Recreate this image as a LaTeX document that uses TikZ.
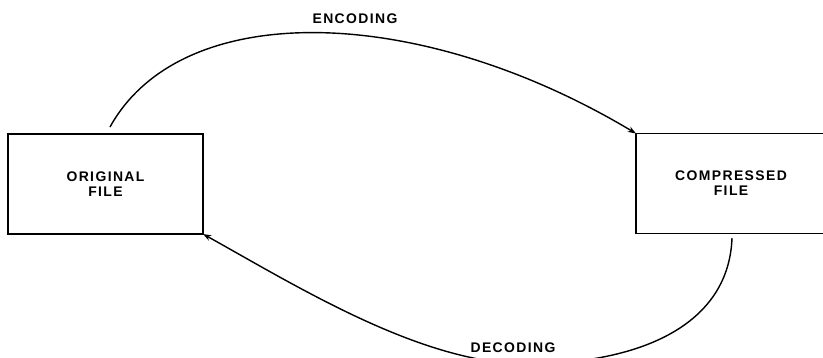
\documentclass[tikz,border=0pt]{standalone}
\usepackage{fontspec}
\setmainfont{Liberation Sans}
\newfontfamily\capsfont[LetterSpace=10]{Liberation Sans}
\usetikzlibrary{arrows.meta}
\tikzset{filebox/.style={draw,line width=1.5pt,outer sep=0pt,align=center,
    minimum height=3cm,font=\capsfont\bfseries\fontsize{11.9}{12.8}\selectfont}}
\tikzset{flowlabel/.style={fill=white,inner sep=1pt,font=\capsfont\bfseries\fontsize{11.9}{12.8}\selectfont}}
\tikzset{flow/.style={line width=1.2pt,-{Stealth[length=7pt,width=5pt]}}}

\begin{document}
\begin{tikzpicture}[x=0.03cm,y=-0.03cm]
\useasboundingbox (0,0) rectangle (823,357);

% the two files
\node[filebox, minimum width=5.85cm] at (105.5,184) (orig) {ORIGINAL\\FILE};
\node[filebox, minimum width=5.7cm] at (731,183.5) (comp) {COMPRESSED\\FILE};

% free ends of the two curves
\coordinate (encstart) at (110,127);
\coordinate (decstart) at (732,238);
\coordinate (decbottom) at (532,364);

% encoding, over the top
\draw[flow] (encstart) .. controls (182,-3) and (420,4) .. (comp.north west);
\node[flowlabel] at (355,18.5) (enc) {ENCODING};

% decoding, round the bottom
\draw[flow] (decstart) .. controls (729,320) and (650,362) .. (decbottom)
  .. controls (425,366) and (300,288) .. (orig.south east);
\node[flowlabel] at (513,348) (dec) {DECODING};

\end{tikzpicture}
\end{document}
